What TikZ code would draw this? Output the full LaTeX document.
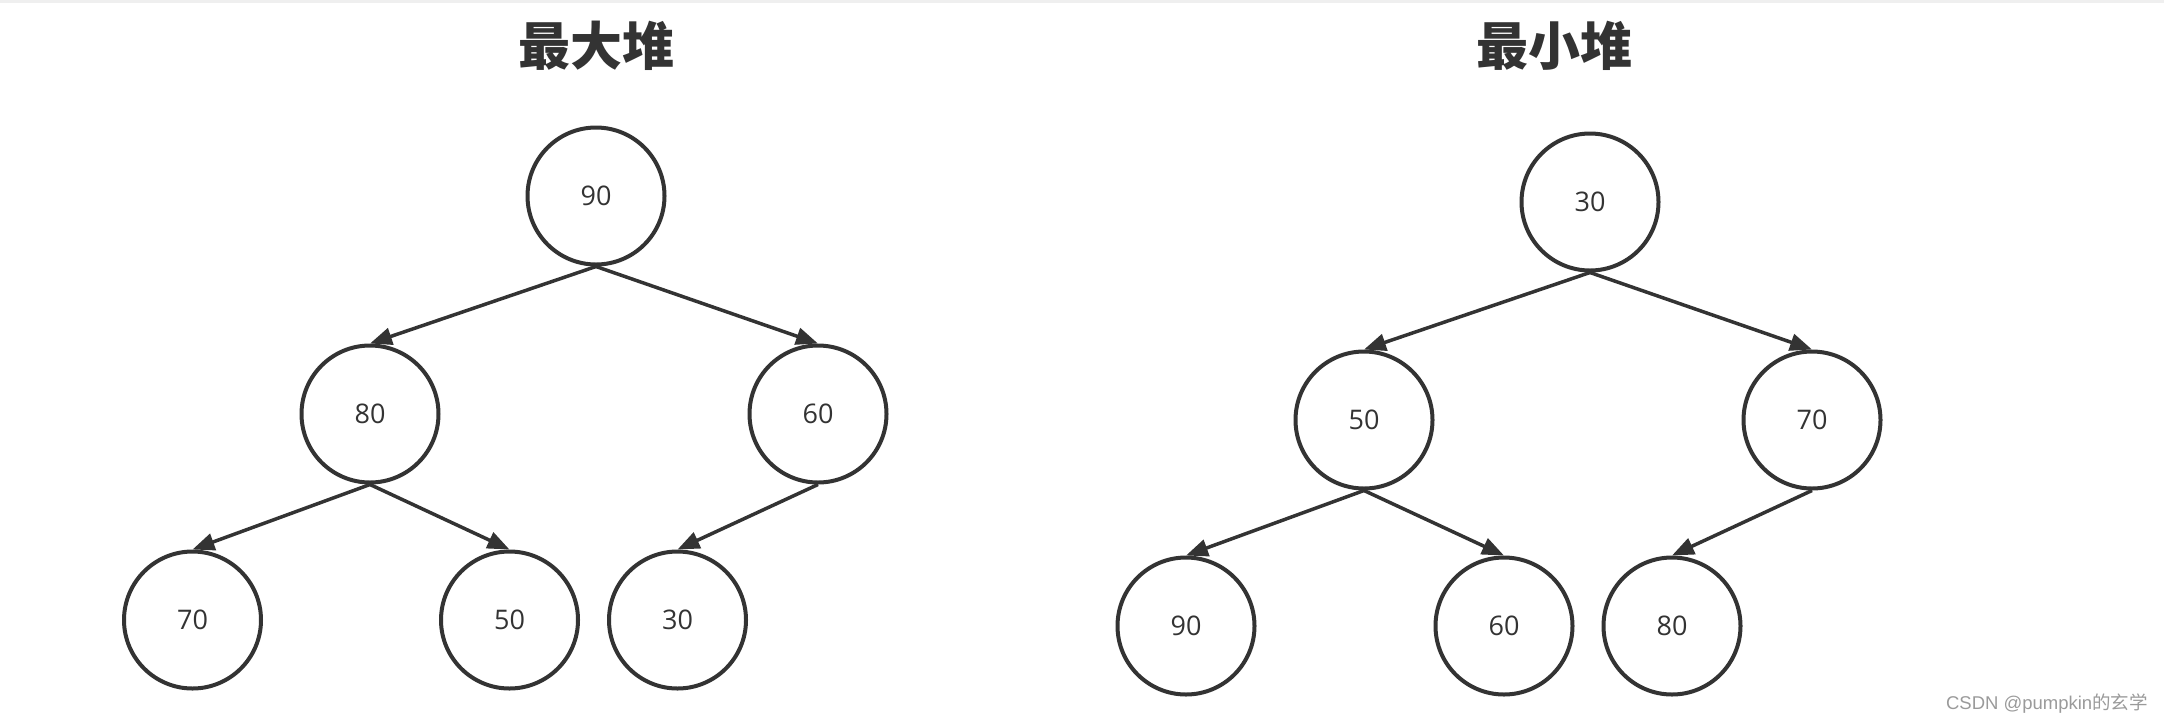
\documentclass[tikz,border=0pt]{standalone}
\usepackage{fontspec}
\setmainfont{Open Sans}
\newfontfamily\cjk{Noto Sans CJK SC}
\newfontfamily\wmfont{Liberation Sans}
\usepackage{tikz}
\usetikzlibrary{positioning,arrows.meta}

\definecolor{ink}{HTML}{333333}
\definecolor{wmgray}{HTML}{9A9A9A}
\definecolor{edgegray}{HTML}{EFEFEF}

\begin{document}
\begin{tikzpicture}[
    x=1pt, y=-1pt,
    font=\fontsize{27}{32}\selectfont,
    heapnode/.style={draw=ink, circle, line width=4pt, minimum size=137pt,
                     inner sep=0pt, text=ink},
    title/.style={font=\cjk\bfseries\fontsize{52}{60}\selectfont, text=ink, inner sep=0pt},
    arr/.style={-{Triangle[length=22pt, width=17pt]}, line width=3.5pt, draw=ink}
  ]

  % ========= canvas =========
  \useasboundingbox (0,0) rectangle (2164,724);
  \fill[edgegray] (0,0) rectangle (2164,3);

  % ========= max heap =========
  \node[title] (tmax) at (596,46) {最大堆};

  \node[heapnode] (max90) at (596,196) {90};
  \node[heapnode, below=77pt of max90, xshift=-226pt] (max80) {80};
  \node[heapnode, below=77pt of max90, xshift=222pt]  (max60) {60};
  \node[heapnode, below=65pt of max80, xshift=-177.5pt] (max70) {70};
  \node[heapnode, below=65pt of max80, xshift=139.5pt]  (max50) {50};
  \node[heapnode, below=65pt of max60, xshift=-140.5pt] (max30) {30};

  \draw[arr] (max90.south) -- (max80.north);
  \draw[arr] (max90.south) -- (max60.north);
  \draw[arr] (max80.south) -- (max70.north);
  \draw[arr] (max80.south) -- (max50.north);
  \draw[arr] (max60.south) -- (max30.north);

  % ========= min heap =========
  \node[title] (tmin) at (1554,46) {最小堆};

  \node[heapnode] (min30) at (1590,202) {30};
  \node[heapnode, below=77pt of min30, xshift=-226pt] (min50) {50};
  \node[heapnode, below=77pt of min30, xshift=222pt]  (min70) {70};
  \node[heapnode, below=65pt of min50, xshift=-178pt] (min90) {90};
  \node[heapnode, below=65pt of min50, xshift=140pt]  (min60) {60};
  \node[heapnode, below=65pt of min70, xshift=-140pt] (min80) {80};

  \draw[arr] (min30.south) -- (min50.north);
  \draw[arr] (min30.south) -- (min70.north);
  \draw[arr] (min50.south) -- (min90.north);
  \draw[arr] (min50.south) -- (min60.north);
  \draw[arr] (min70.south) -- (min80.north);

  % ========= watermark =========
  \node[anchor=east, inner sep=0pt, text=wmgray, font=\wmfont\fontsize{18.5}{20}\selectfont]
    (mark) at (2148,704) {CSDN @pumpkin{\cjk 的玄学}};

\end{tikzpicture}
\end{document}
